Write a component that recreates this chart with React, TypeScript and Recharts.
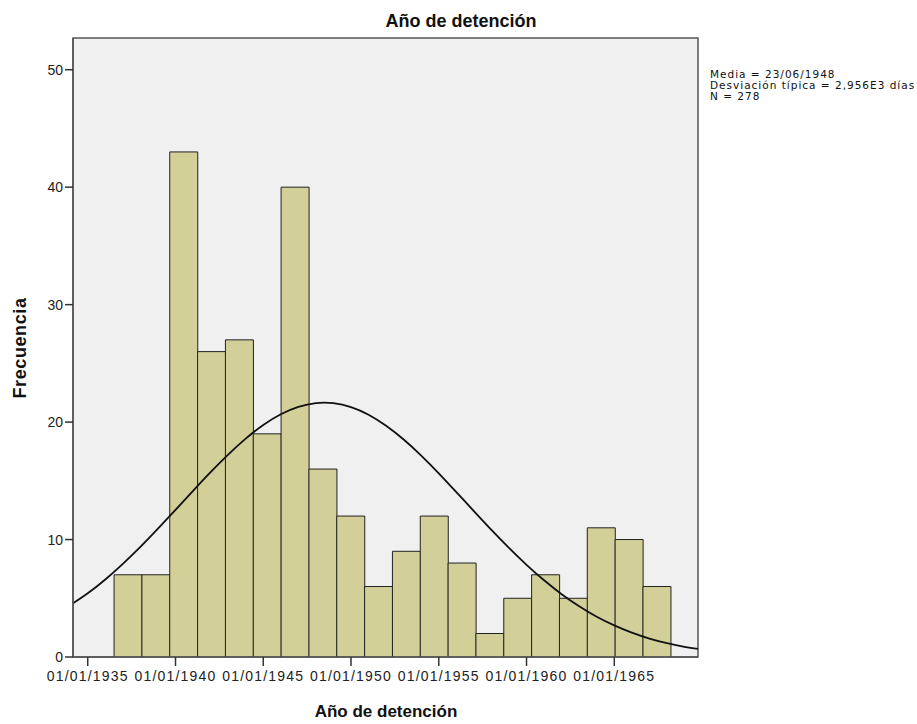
import {
  ComposedChart,
  Bar,
  Line,
  XAxis,
  YAxis,
  CartesianGrid,
  ReferenceArea,
} from "recharts";

// histogram bins (bin centre in decimal years) and their counts
const binCenters = [
  1937.293, 1938.879, 1940.465, 1942.051, 1943.637, 1945.223, 1946.809,
  1948.395, 1949.981, 1951.567, 1953.153, 1954.739, 1956.325, 1957.911,
  1959.497, 1961.083, 1962.669, 1964.255, 1965.841, 1967.427,
];
const counts = [7, 7, 43, 26, 27, 19, 40, 16, 12, 6, 9, 12, 8, 2, 5, 7, 5, 11, 10, 6];

// normal curve
const curveYears = [
  1934.16, 1935, 1936, 1937, 1938, 1939, 1940, 1941, 1942, 1943, 1944, 1945,
  1946, 1947, 1948, 1949, 1950, 1951, 1952, 1953, 1954, 1955, 1956, 1957,
  1958, 1959, 1960, 1961, 1962, 1963, 1964, 1965, 1966, 1967, 1968, 1969,
  1969.77,
];
const curveValues = [
  4.57, 5.42, 6.6, 7.93, 9.37, 10.92, 12.52, 14.14, 15.73, 17.23, 18.59,
  19.76, 20.67, 21.3, 21.62, 21.61, 21.28, 20.63, 19.69, 18.52, 17.15, 15.64,
  14.04, 12.42, 10.82, 9.29, 7.85, 6.53, 5.35, 4.32, 3.43, 2.69, 2.07, 1.57,
  1.18, 0.87, 0.69,
];

const xTicks = [1935, 1940, 1945, 1950, 1955, 1960, 1965];
const yTicks = [0, 10, 20, 30, 40, 50];
const xDomain = [1934.16, 1969.77];
const yDomain = [0, 52.7];

const statLines = [
  "Media = 23/06/1948",
  "Desviación típica = 2,956E3 días",
  "N = 278",
];

const barData = binCenters.map((x, i) => ({ x, count: counts[i] }));
const curveData = curveYears.map((x, i) => ({ x, y: curveValues[i] }));

const FONT = "'Liberation Sans', Arial, sans-serif";

export default function App() {
  return (
    <div
      style={{
        position: "absolute",
        left: 0,
        top: 0,
        width: 917,
        height: 724,
        background: "#fff",
        fontFamily: FONT,
        color: "#111",
      }}
    >
      <ComposedChart
        width={917}
        height={724}
        data={barData}
        margin={{ top: 38, right: 219, bottom: 17, left: 0 }}
        barCategoryGap={0}
        barGap={0}
      >
        <CartesianGrid horizontal={false} vertical={false} fill="#f0f0f0" />
        <XAxis
          dataKey="x"
          type="number"
          domain={xDomain}
          allowDataOverflow
          ticks={xTicks}
          tickFormatter={(v) => "01/01/" + v}
          height={50}
          tickSize={9}
          tickMargin={5}
          axisLine={{ stroke: "#555", strokeWidth: 1.5 }}
          tickLine={{ stroke: "#333", strokeWidth: 1.5 }}
          tick={{ fill: "#222", fontSize: 14, fontFamily: FONT, letterSpacing: 1.2 }}
        />
        <XAxis xAxisId="curve" dataKey="x" type="number" domain={xDomain} allowDataOverflow hide />
        <YAxis
          type="number"
          domain={yDomain}
          allowDataOverflow
          ticks={yTicks}
          width={73}
          tickSize={8}
          tickMargin={2}
          axisLine={{ stroke: "#555", strokeWidth: 1.5 }}
          tickLine={{ stroke: "#333", strokeWidth: 1.5 }}
          tick={{ fill: "#222", fontSize: 14, fontFamily: FONT }}
        />
        <Bar
          dataKey="count"
          fill="#d3cf98"
          stroke="#222"
          strokeWidth={1}
          isAnimationActive={false}
        />
        <Line
          data={curveData}
          xAxisId="curve"
          dataKey="y"
          type="natural"
          stroke="#111"
          strokeWidth={1.8}
          dot={false}
          isAnimationActive={false}
        />
        <ReferenceArea
          x1={xDomain[0]}
          x2={xDomain[1]}
          y1={yDomain[0]}
          y2={yDomain[1]}
          fill="none"
          stroke="#555"
          strokeWidth={1.5}
        />
      </ComposedChart>

      <div
        style={{
          position: "absolute",
          left: 261,
          width: 400,
          top: 12,
          textAlign: "center",
          fontSize: 18,
          fontWeight: "bold",
          lineHeight: 1,
        }}
      >
        Año de detención
      </div>

      <div
        style={{
          position: "absolute",
          left: 186,
          width: 400,
          top: 703,
          textAlign: "center",
          fontSize: 17,
          fontWeight: "bold",
          lineHeight: 1,
        }}
      >
        Año de detención
      </div>

      <div
        style={{
          position: "absolute",
          left: 20 - 100,
          width: 200,
          top: 348 - 9,
          textAlign: "center",
          fontSize: 18,
          fontWeight: "bold",
          lineHeight: "18px",
          letterSpacing: 0.6,
          transform: "rotate(-90deg)",
        }}
      >
        Frecuencia
      </div>

      <div
        style={{
          position: "absolute",
          left: 710,
          top: 69,
          fontSize: 10.5,
          lineHeight: "11px",
          letterSpacing: 1,
          fontFamily: "'DejaVu Sans', sans-serif",
          whiteSpace: "nowrap",
          color: "#111",
        }}
      >
        {statLines.map((s) => (
          <div key={s}>{s}</div>
        ))}
      </div>
    </div>
  );
}
